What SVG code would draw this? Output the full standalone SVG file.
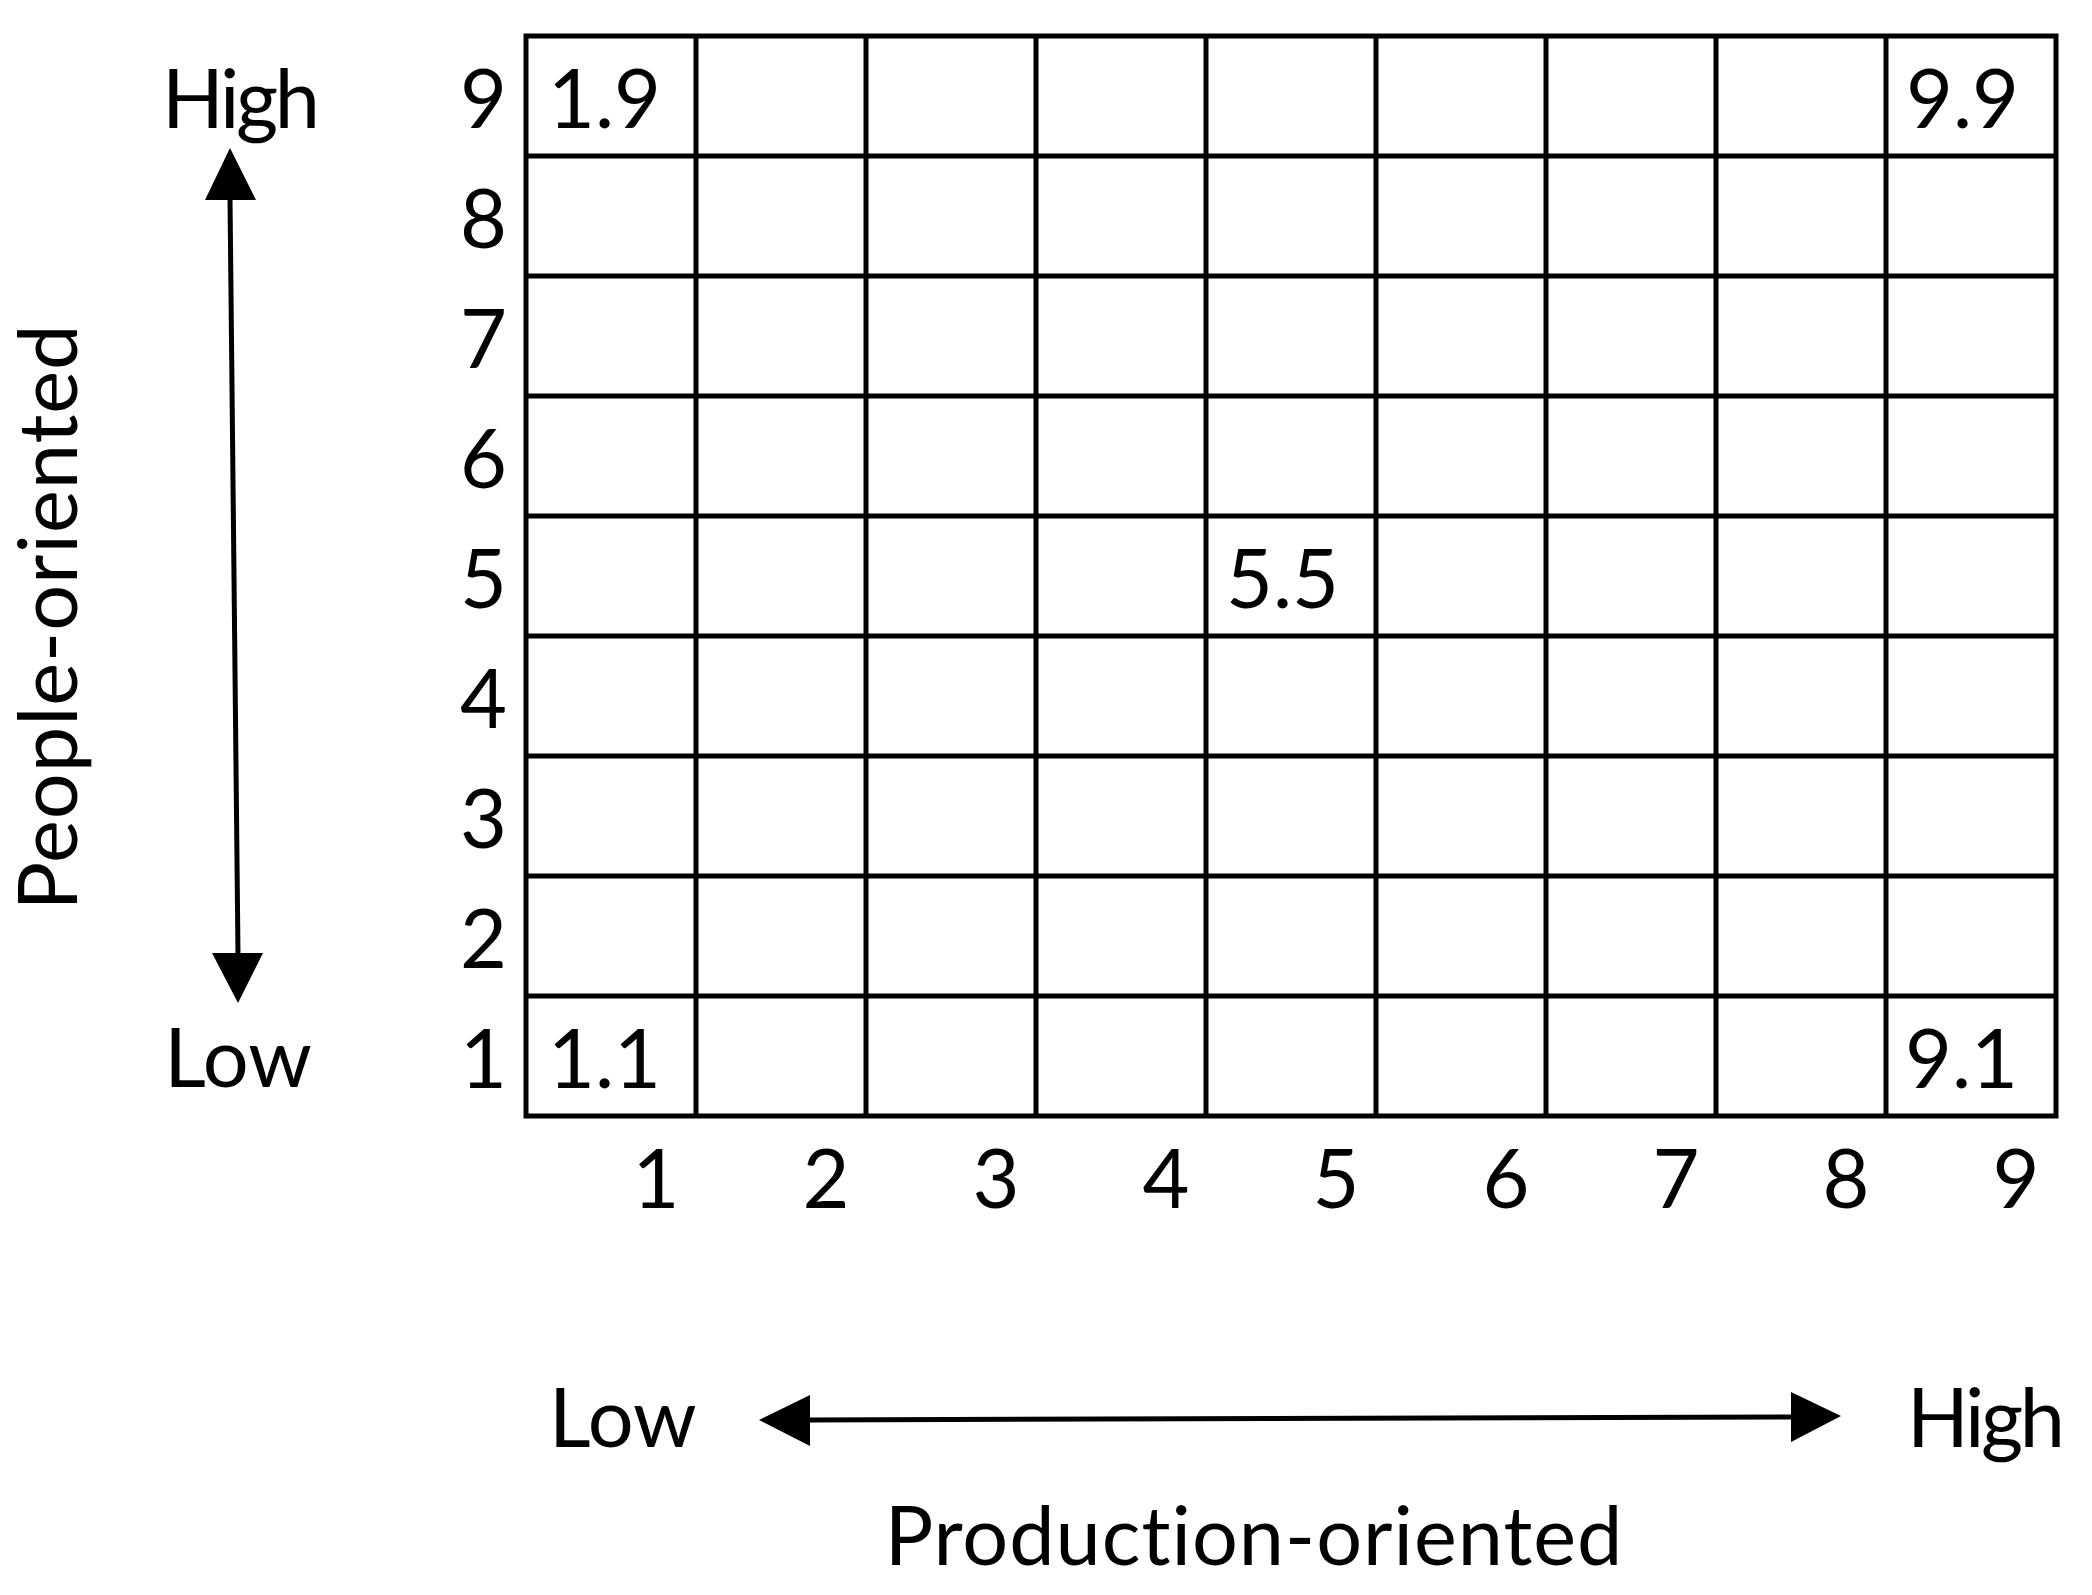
<svg xmlns="http://www.w3.org/2000/svg" width="2092" height="1595" viewBox="0 0 2092 1595">
<style>
text{font-family:Lato,"Open Sans","Liberation Sans",sans-serif;font-size:81px;fill:#000;font-variant-ligatures:none}
.g{stroke:#000;stroke-width:5;fill:none}
.ax{stroke:#000;stroke-width:5;fill:none}
.m{text-anchor:middle}
.e{text-anchor:end}
.sp{letter-spacing:1px}
</style>
<rect width="2092" height="1595" fill="#fff"/>
<g id="grid">
<rect class="g" x="526" y="36" width="1530" height="1080"/>
<path class="g" d="M696 36V1116M866 36V1116M1036 36V1116M1206 36V1116M1376 36V1116M1546 36V1116M1716 36V1116M1886 36V1116M526 156H2056M526 276H2056M526 396H2056M526 516H2056M526 636H2056M526 756H2056M526 876H2056M526 996H2056"/>
</g>
<g id="row-labels">
<text class="e" x="507" y="128">9</text>
<text class="e" x="507" y="248">8</text>
<text class="e" x="507" y="368">7</text>
<text class="e" x="507" y="488">6</text>
<text class="e" x="507" y="608">5</text>
<text class="e" x="507" y="728">4</text>
<text class="e" x="507" y="848">3</text>
<text class="e" x="507" y="968">2</text>
<text class="e" x="507" y="1088">1</text>
</g>
<g id="col-labels">
<text class="m" x="656" y="1208">1</text>
<text class="m" x="826" y="1208">2</text>
<text class="m" x="996" y="1208">3</text>
<text class="m" x="1166" y="1208">4</text>
<text class="m" x="1336" y="1208">5</text>
<text class="m" x="1506" y="1208">6</text>
<text class="m" x="1676" y="1208">7</text>
<text class="m" x="1846" y="1208">8</text>
<text class="m" x="2016" y="1208">9</text>
</g>
<g id="cell-labels">
<text x="548" y="128">1.9</text>
<text x="1906" y="128">9.9</text>
<text x="1226" y="608">5.5</text>
<text x="548" y="1088">1.1</text>
<text x="1905" y="1088">9.1</text>
</g>
<g id="axis-labels">
<text x="162" y="128" textLength="158">High</text>
<text class="m" x="238" y="1087">Low</text>
<text x="549" y="1447">Low</text>
<text x="1907" y="1447" textLength="158">High</text>
<text class="m sp" x="1254" y="1565">Production-oriented</text>
<text class="m sp" transform="translate(77,617) rotate(-90)">People-oriented</text>
</g>
<g id="connectors">
<line class="ax" x1="230" y1="198" x2="238" y2="955"/>
<polygon points="230,148 205,200 256,200"/>
<polygon points="238,1003 212,953 263,953"/>
<line class="ax" x1="808" y1="1420" x2="1793" y2="1417"/>
<polygon points="759,1420 810,1395 810,1446"/>
<polygon points="1841,1416 1791,1392 1791,1442"/>
</g>
</svg>
